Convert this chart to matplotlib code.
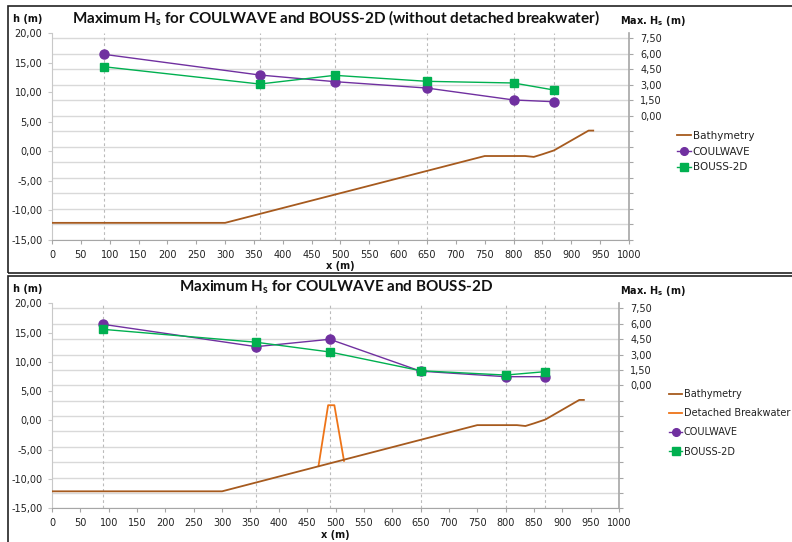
import numpy as np
import matplotlib
matplotlib.use("Agg")
import matplotlib.pyplot as plt
from matplotlib.patches import Rectangle
from matplotlib.ticker import FuncFormatter

# ---------------- data ----------------
x_points = [90, 360, 490, 650, 800, 870]

# top chart (without detached breakwater)
coul_top = [5.94, 3.94, 3.30, 2.68, 1.53, 1.36]
bouss_top = [4.74, 3.07, 3.91, 3.33, 3.17, 2.49]

# bottom chart (with detached breakwater)
coul_bot = [5.95, 3.77, 4.49, 1.38, 0.84, 0.84]
bouss_bot = [5.46, 4.20, 3.25, 1.42, 1.00, 1.33]

bathy_x = [0, 300, 750, 820, 835, 850, 870, 930, 938]
bathy_h = [-12.1, -12.1, -0.8, -0.8, -0.95, -0.5, 0.15, 3.5, 3.5]

bw_x = [470, 487, 498, 515]
bw_h = [-7.8, 2.6, 2.6, -6.9]

h_ticks = [-15, -10, -5, 0, 5, 10, 15, 20]
hs_ticks = list(np.arange(-12, 7.6, 1.5))
x_ticks = list(range(0, 1001, 50))

# ---------------- style ----------------
W, H = 792, 542
fig = plt.figure(figsize=(W / 100, H / 100), dpi=100)
plt.rcParams['font.family'] = ['DejaVu Sans']

C_COUL = '#7030A0'
C_BOUSS = '#00B050'
C_BATHY = '#A65A1E'
C_BW = '#EE7418'
C_GRID = '#D9D9D9'
C_AX = '#A6A6A6'
C_DROP = '#BBBBBB'

def fx(px):
    return px / W

def fy(py):
    return 1 - py / H

comma = lambda v, p: f"{v:.2f}".replace('.', ',')
hs_fmt = lambda v, p: (f"{v:.2f}".replace('.', ',') if v > -1e-9 else '')

TITLE_FONT = ['Lato', 'DejaVu Sans']

def make_panel(left, right, top, bottom, coul, bouss, title, title_xy,
               with_bw, legend_xy, label_spacing, legend_fs, hlab_xy, hslab_xy, xlab_xy):
    ax = fig.add_axes([fx(left), fy(bottom), fx(right - left), (bottom - top) / H])
    ax2 = ax.twinx()
    ax.set_zorder(2)
    ax2.set_zorder(1)
    ax.patch.set_visible(False)

    ax.set_xlim(0, 1000)
    ax.set_ylim(-15, 20)
    ax2.set_ylim(-12, 8)

    # gridlines (right axis ticks)
    ax2.set_yticks(hs_ticks)
    ax2.yaxis.set_major_formatter(FuncFormatter(hs_fmt))
    ax2.grid(True, axis='y', color=C_GRID, lw=1.0)
    ax2.set_axisbelow(True)

    ax.set_yticks(h_ticks)
    ax.yaxis.set_major_formatter(FuncFormatter(comma))
    ax.set_xticks(x_ticks)

    for a in (ax, ax2):
        for s in a.spines.values():
            s.set_visible(False)
    ax.spines['left'].set_visible(True)
    ax.spines['left'].set_color('#C8C8C8')
    ax.spines['bottom'].set_visible(True)
    ax.spines['bottom'].set_color(C_AX)
    ax2.spines['right'].set_visible(True)
    ax2.spines['right'].set_color(C_AX)
    ax2.spines['right'].set_linewidth(1.2)

    ax.tick_params(axis='y', length=3, width=0.8, color='#C8C8C8', labelsize=7, pad=4, labelcolor='#222222')
    ax.tick_params(axis='x', length=3, width=0.8, color=C_AX, labelsize=7, pad=4, labelcolor='#222222')
    ax2.tick_params(axis='y', length=3, width=0.8, color=C_AX, labelsize=7, pad=5, labelcolor='#222222')

    # drop lines at measurement points
    for xv in x_points:
        ax2.axvline(xv, color=C_DROP, lw=0.8, ls=(0, (2.5, 2.5)), zorder=1.5)

    l_c, = ax2.plot(x_points, coul, color=C_COUL, lw=1.0, marker='o', ms=6.5,
                    mfc=C_COUL, mec=C_COUL, zorder=3, label='COULWAVE')
    l_b, = ax2.plot(x_points, bouss, color=C_BOUSS, lw=1.0, marker='s', ms=6,
                    mfc=C_BOUSS, mec=C_BOUSS, zorder=3, label='BOUSS-2D')

    l_bath, = ax.plot(bathy_x, bathy_h, color=C_BATHY, lw=1.3, label='Bathymetry', zorder=4)
    handles = [l_bath]
    if with_bw:
        l_bw, = ax.plot(bw_x, bw_h, color=C_BW, lw=1.3, label='Detached Breakwater', zorder=3)
        handles.append(l_bw)
    handles += [l_c, l_b]

    leg = fig.legend(handles=handles, loc='upper left',
                     bbox_to_anchor=(fx(legend_xy[0]), fy(legend_xy[1])),
                     frameon=False, fontsize=legend_fs, handlelength=1.35,
                     handletextpad=0.15, borderpad=0, borderaxespad=0,
                     labelspacing=label_spacing, markerscale=0.85)
    for t in leg.get_texts():
        t.set_color('#222222')

    fig.text(fx(title_xy[0]), fy(title_xy[1]), title, ha='center', va='center',
             fontsize=11, fontweight='bold', family=TITLE_FONT, color='#111111')
    fig.text(fx(hlab_xy[0]), fy(hlab_xy[1]), 'h (m)', ha='center', va='center',
             fontsize=7, fontweight='bold', color='#111111')
    fig.text(fx(hslab_xy[0]), fy(hslab_xy[1]), r'Max. H$\mathregular{_s}$ (m)', ha='center',
             va='center', fontsize=7, fontweight='bold', color='#111111')
    fig.text(fx(xlab_xy[0]), fy(xlab_xy[1]), 'x (m)', ha='center', va='center',
             fontsize=7, fontweight='bold', color='#111111')
    return ax, ax2


make_panel(52, 629, 33, 240, coul_top, bouss_top,
           r'Maximum H$\mathregular{_s}$ for COULWAVE and BOUSS-2D (without detached breakwater)',
           (336, 18), False, (677, 131), 0.55, 7.5, (28, 19), (653, 21), (340, 266))

make_panel(52, 619, 303.3, 508.3, coul_bot, bouss_bot,
           r'Maximum H$\mathregular{_s}$ for COULWAVE and BOUSS-2D',
           (336, 287), True, (669, 389), 0.95, 7.0, (28, 289), (653, 291), (335, 535))

# chart borders
fig.add_artist(Rectangle((fx(8), fy(272.5)), fx(800), (272.5 - 6) / H,
                         transform=fig.transFigure, fill=False, ec='#222222', lw=1.2))
fig.add_artist(Rectangle((fx(8), fy(560)), fx(800), (560 - 275.5) / H,
                         transform=fig.transFigure, fill=False, ec='#222222', lw=1.2))

fig.savefig('out.png', dpi=100)
